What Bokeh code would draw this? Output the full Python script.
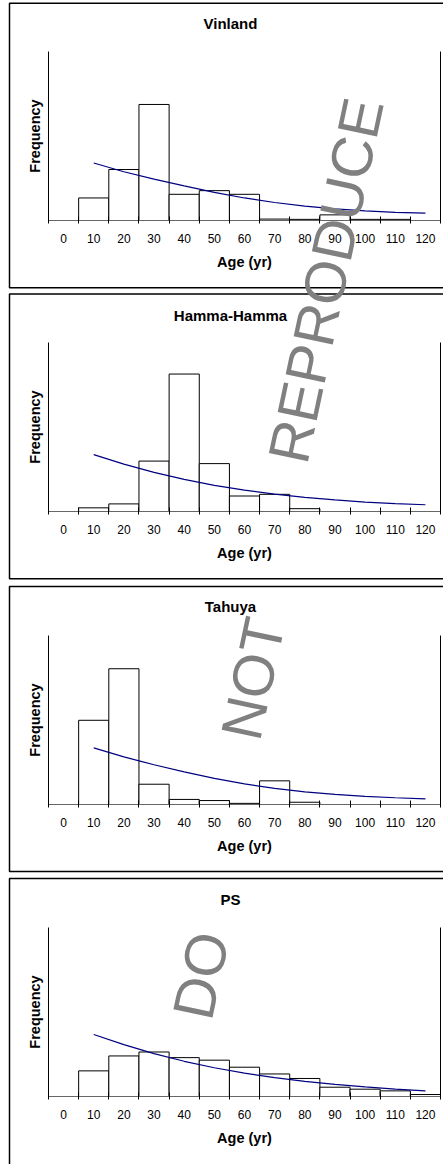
from bokeh.plotting import figure
from bokeh.layouts import column
from bokeh.models import Range1d, LinearAxis, FixedTicker, Label
from bokeh.embed import file_html
from bokeh.resources import INLINE

# ---------------- data (frequency, % of sample) ----------------
ages = [0, 10, 20, 30, 40, 50, 60, 70, 80, 90, 100, 110, 120]
fit_ages = [10, 20, 30, 40, 50, 60, 70, 80, 90, 100, 110, 120]
sites = ["Vinland", "Hamma-Hamma", "Tahuya", "PS"]

vinland_freq = [0, 8.0, 18.1, 41.2, 9.3, 10.6, 9.3, 0.5, 0.4, 2.0, 0.4, 0.4, 0]
hamma_freq = [0, 1.3, 2.7, 17.9, 48.8, 17.0, 5.5, 6.1, 1.0, 0, 0, 0, 0]
tahuya_freq = [0, 29.9, 48.2, 7.2, 1.8, 1.4, 0.4, 8.4, 0.8, 0, 0, 0, 0]
ps_freq = [0, 9.1, 14.4, 15.8, 13.8, 12.9, 10.4, 8.0, 6.4, 3.3, 2.6, 2.0, 0.7]

vinland_fit = [20.4, 17.3, 14.7, 12.3, 10.0, 8.0, 6.4, 5.1, 4.1, 3.4, 2.9, 2.6]
hamma_fit = [20.2, 16.8, 13.9, 11.4, 9.3, 7.6, 6.2, 5.0, 4.1, 3.3, 2.8, 2.4]
tahuya_fit = [20.1, 16.9, 14.1, 11.6, 9.3, 7.3, 5.7, 4.5, 3.6, 2.9, 2.4, 2.0]
ps_fit = [22.0, 18.4, 15.2, 12.5, 10.2, 8.3, 6.7, 5.4, 4.3, 3.4, 2.6, 2.0]

freqs = [vinland_freq, hamma_freq, tahuya_freq, ps_freq]
fits = [vinland_fit, hamma_fit, tahuya_fit, ps_fit]

watermark_words = ["DO", "NOT", "REPRODUCE"]

# ---------------- layout / style ----------------
FONT = "Liberation Sans"
W = 443
fig_heights = [291, 293, 292, 288]
H_TOTAL = sum(fig_heights)
FRAME_L, FRAME_R, FRAME_T, FRAME_B = 48, 440, 51, 220
bin_w = ages[1] - ages[0]
X0, X1 = ages[0] - bin_w / 2, ages[-1] + bin_w / 2
Y0, Y1 = 0, 60

# page-pixel geometry of the decoration layer
panel_boxes = [(2.7, 287.3), (293.5, 578.3), (586, 871), (878, 1200)]
title_y = [23.3, 315, 606, 899]
title_x = 230
watermark_pos = [(200, 975), (252, 678), (325, 280)]


def make_panel(freq, fit, height):
    p = figure(
        width=W, height=height,
        x_range=Range1d(X0, X1), y_range=Range1d(Y0, Y1),
        output_backend="svg", toolbar_location=None,
        min_border_left=FRAME_L, min_border_right=W - FRAME_R,
        min_border_top=FRAME_T, min_border_bottom=height - FRAME_B,
        x_axis_label="Age (yr)", y_axis_label="Frequency",
    )
    p.background_fill_color = "white"
    p.border_fill_color = "white"
    p.outline_line_color = None
    p.grid.visible = False

    # x axis: labels at bin centres, ticks at bin edges
    edges = [a - bin_w / 2 for a in ages] + [ages[-1] + bin_w / 2]
    xa = p.xaxis[0]
    xa.ticker = FixedTicker(ticks=ages, minor_ticks=edges)
    xa.major_tick_in = 0
    xa.major_tick_out = 0
    xa.major_tick_line_color = None
    xa.minor_tick_in = 4
    xa.minor_tick_out = 3
    xa.minor_tick_line_color = "black"
    xa.axis_line_color = "#666666"
    xa.major_label_text_font = FONT
    xa.major_label_text_font_size = "12px"
    xa.major_label_text_color = "black"
    xa.major_label_standoff = 10
    xa.axis_label_text_font = FONT
    xa.axis_label_text_font_size = "14.5px"
    xa.axis_label_text_font_style = "bold"
    xa.axis_label_text_color = "black"
    xa.axis_label_standoff = 8

    # left y axis: line only
    ya = p.yaxis[0]
    ya.ticker = FixedTicker(ticks=[])
    ya.axis_line_color = "black"
    ya.major_tick_line_color = None
    ya.minor_tick_line_color = None
    ya.major_label_text_font_size = "0px"
    ya.axis_label_text_font = FONT
    ya.axis_label_text_font_size = "14.5px"
    ya.axis_label_text_font_style = "bold"
    ya.axis_label_text_color = "black"
    ya.axis_label_standoff = 6

    # right (secondary) axis: line only
    ra = LinearAxis(ticker=FixedTicker(ticks=[]), axis_line_color="black",
                    major_tick_line_color=None, minor_tick_line_color=None,
                    major_label_text_font_size="0px")
    p.add_layout(ra, "right")

    # histogram bars
    bx = [a for a, f in zip(ages, freq) if f > 0]
    bt = [f for f in freq if f > 0]
    p.vbar(x=bx, top=bt, bottom=0, width=bin_w, fill_color="white",
           line_color="black", line_width=1)

    # fitted curve
    p.line(fit_ages, fit, line_color="#000080", line_width=1.2)
    return p


panels = [make_panel(f, ft, h) for f, ft, h in zip(freqs, fits, fig_heights)]

# ---------------- decoration layer (borders, titles, watermark) -------------
ov = figure(width=W, height=H_TOTAL, x_range=Range1d(0, W),
            y_range=Range1d(H_TOTAL, 0), output_backend="svg",
            toolbar_location=None, x_axis_location=None,
            y_axis_location=None, min_border=0, frame_align=False,
            margin=(-H_TOTAL, 0, 0, 0))
ov.background_fill_color = None
ov.border_fill_color = None
ov.outline_line_color = None
ov.xgrid.visible = False
ov.ygrid.visible = False

ov.quad(left=[9] * 4, right=[470] * 4,
        top=[b[0] for b in panel_boxes], bottom=[b[1] for b in panel_boxes],
        fill_color=None, line_color="black", line_width=1.5)

for name, ty in zip(sites, title_y):
    ov.add_layout(Label(x=title_x, y=ty, text=name, text_align="center",
                        text_baseline="middle", text_font=FONT,
                        text_font_size="15px", text_font_style="bold",
                        text_color="black"))

for word, (wx, wy) in zip(watermark_words, watermark_pos):
    ov.add_layout(Label(x=wx, y=wy, text=word, angle=78, angle_units="deg",
                        text_align="center", text_baseline="middle",
                        text_font=FONT, text_font_size="58px",
                        text_color="#808080"))

layout = column(*panels, ov, spacing=0)

open("out.html", "w").write(file_html(layout, INLINE))
